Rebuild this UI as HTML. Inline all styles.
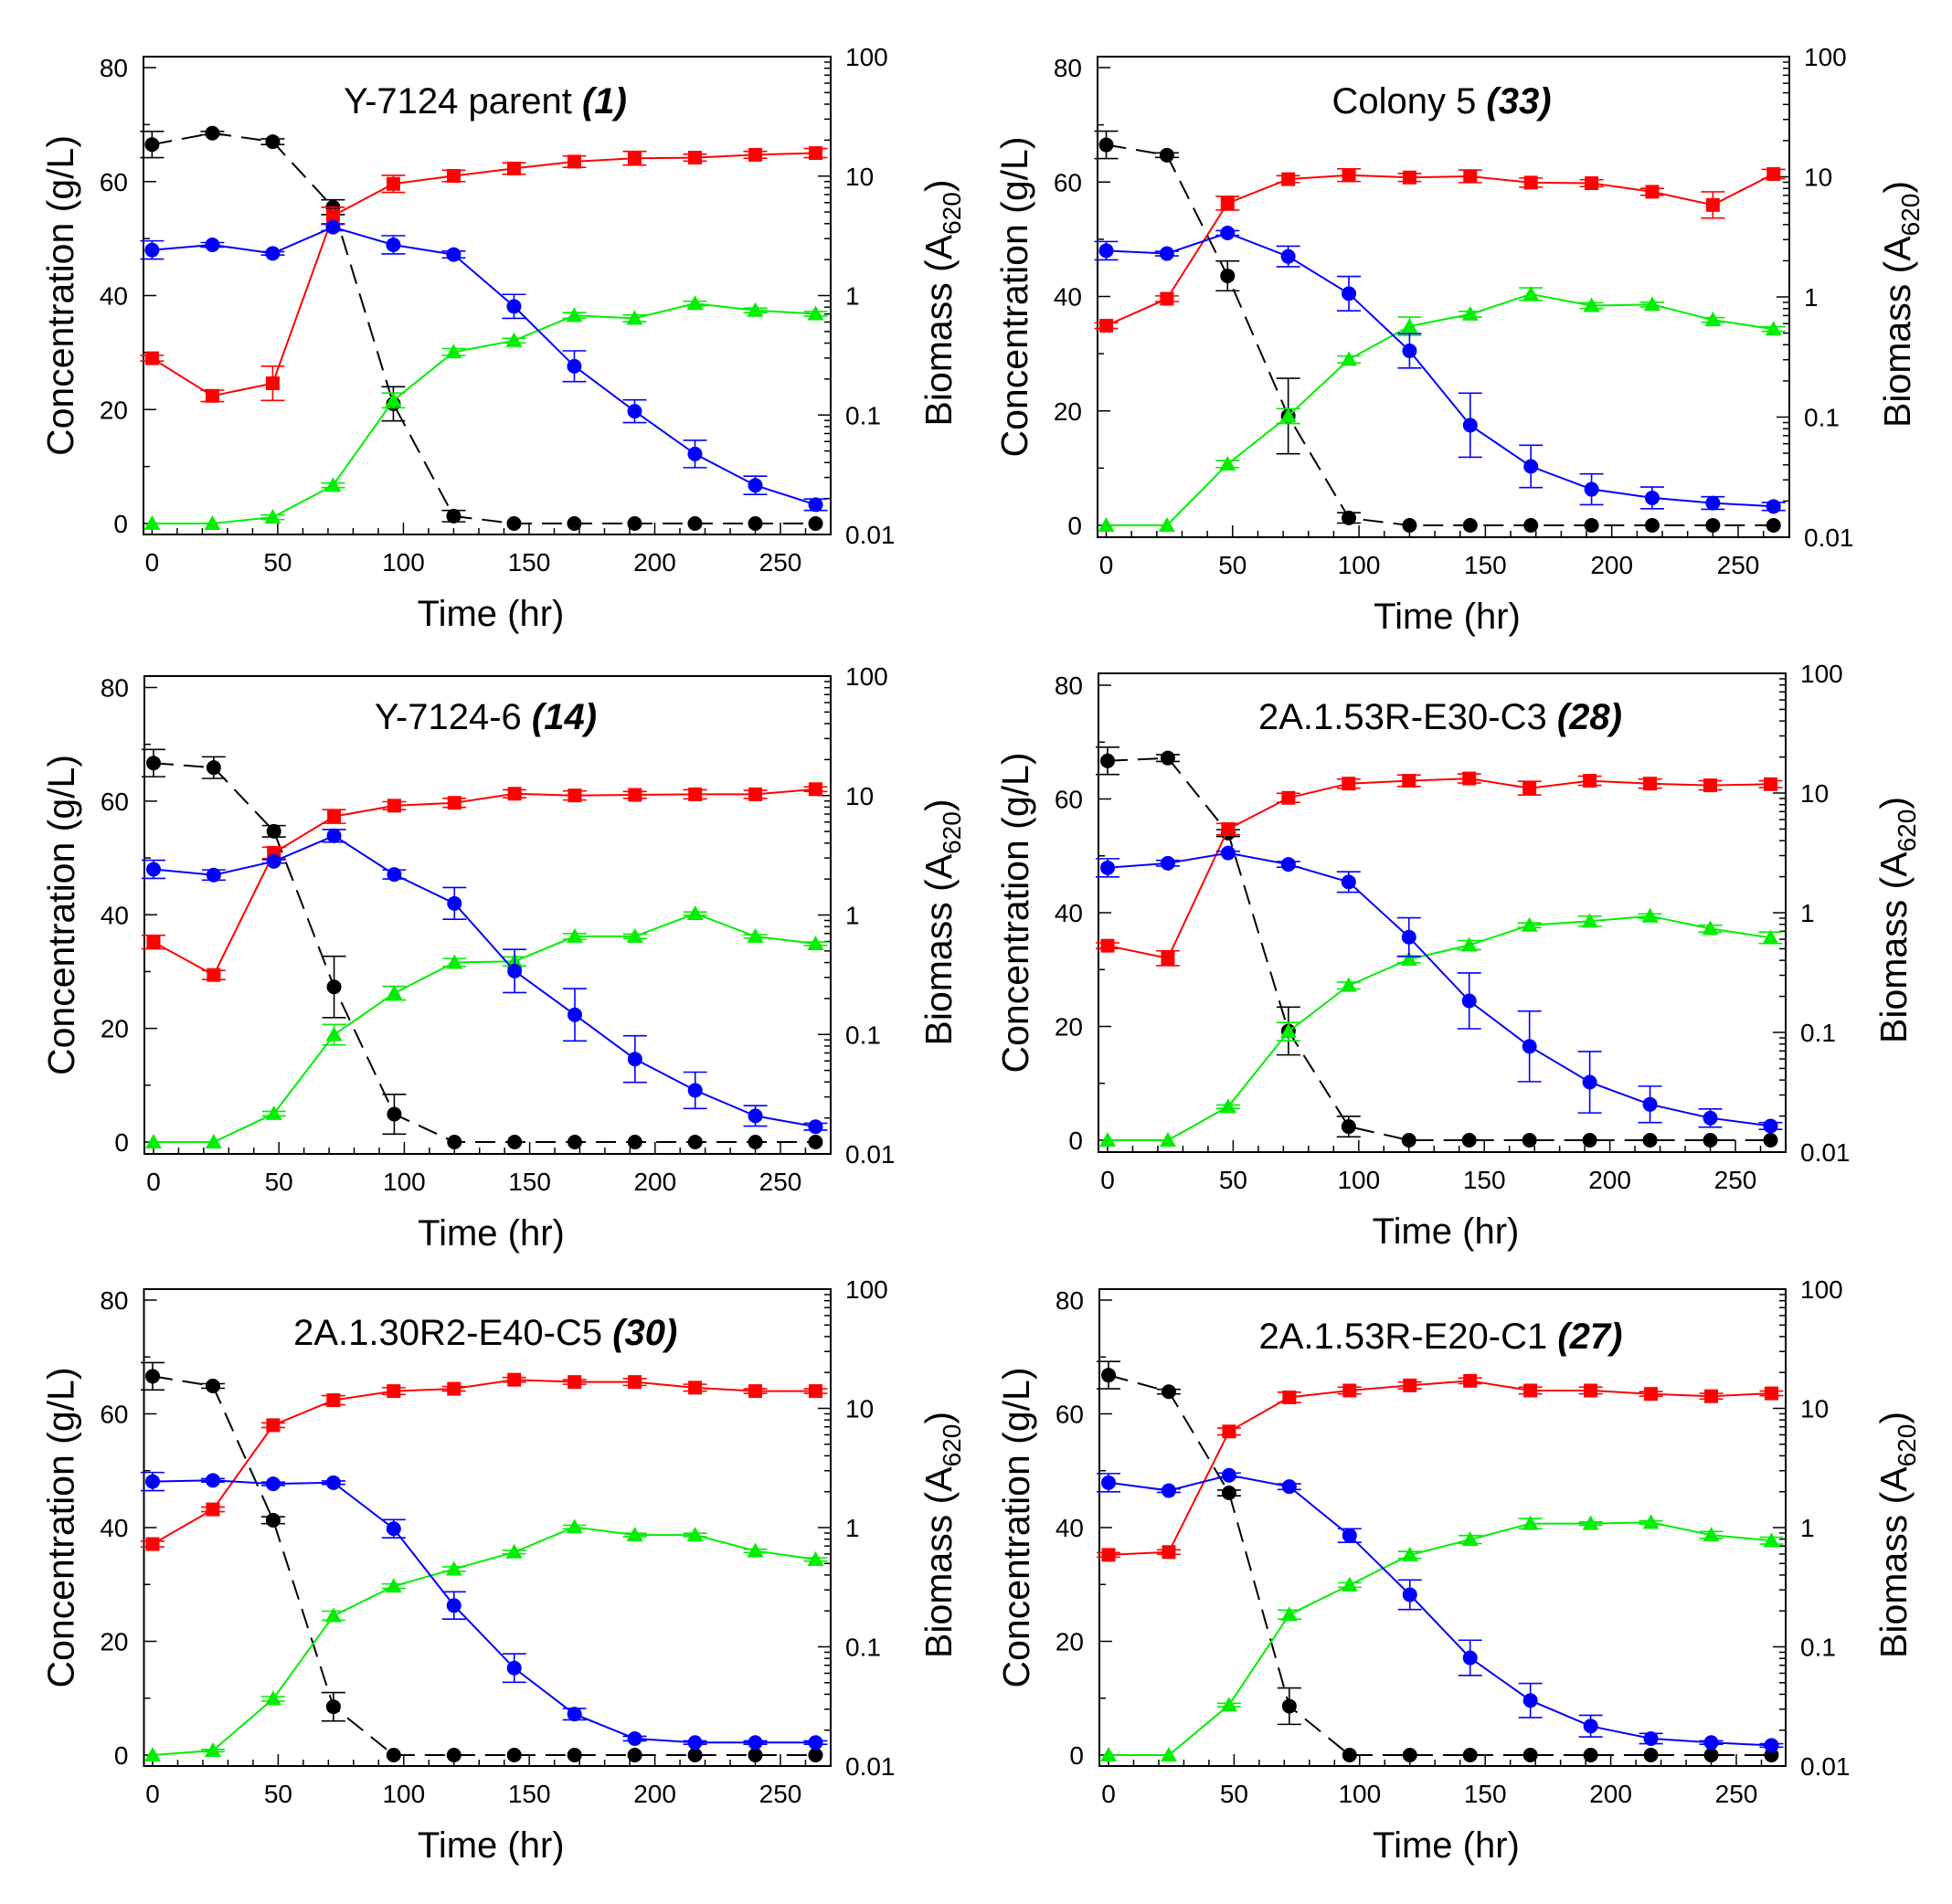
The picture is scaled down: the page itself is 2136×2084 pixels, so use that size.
<!DOCTYPE html>
<html><head><meta charset="utf-8"><style>
html,body{margin:0;padding:0;background:#fff;}
svg{display:block;font-family:"Liberation Sans",Arial,sans-serif;}
</style></head>
<body>
<svg id="chart" width="2136" height="2084" viewBox="0 0 2136 2084" xmlns="http://www.w3.org/2000/svg"></svg>
<script>
// Shared categories
const times = [0, 24, 48, 72, 96, 120, 144, 168, 192, 216, 240, 264];
const xTicks = [0, 50, 100, 150, 200, 250];
const yTicks = [0, 20, 40, 60, 80];
const rTickLabels = ["0.01", "0.1", "1", "10", "100"];

// Panel titles
const titleMain = ["Y-7124 parent ", "Colony 5 ", "Y-7124-6 ", "2A.1.53R-E30-C3 ", "2A.1.30R2-E40-C5 ", "2A.1.53R-E20-C1 "];
const titleBold = ["(1)", "(33)", "(14)", "(28)", "(30)", "(27)"];

// Panel A
const blackA = [66.5, 68.5, 67, 55.5, 21, 1.3, 0, 0, 0, 0, 0, 0];
const blackErrA = [2.3, 0.3, 0.5, 1.3, 3, 1, 0, 0, 0, 0, 0, 0];
const redA = [29, 22.4, 24.6, 54, 59.6, 61, 62.3, 63.5, 64.1, 64.2, 64.7, 65];
const redErrA = [0.5, 1, 3, 1.5, 1.5, 1, 1, 1, 1.2, 0.6, 0.6, 0.8];
const blueA = [48, 48.9, 47.4, 52, 48.9, 47.2, 38.1, 27.6, 19.7, 12.2, 6.7, 3.3];
const blueErrA = [1.6, 0.4, 0.3, 0.6, 1.6, 0.6, 2.1, 2.7, 2, 2.4, 1.6, 1];
const greenA = [0, 0, 1.1, 6.7, 21.6, 30.1, 32.1, 36.5, 36, 38.6, 37.4, 36.8];
const greenErrA = [0, 0, 0.4, 0.4, 1.3, 0.6, 0.4, 0.5, 0.6, 0.4, 0.4, 0.4];
// Panel B
const blackB = [66.5, 64.7, 43.6, 19.1, 1.3, 0, 0, 0, 0, 0, 0, 0];
const blackErrB = [2.4, 0.4, 2.6, 6.6, 0.9, 0, 0, 0, 0, 0, 0, 0];
const redB = [34.9, 39.6, 56.3, 60.5, 61.2, 60.8, 61, 59.9, 59.8, 58.3, 56, 61.4];
const redErrB = [0.5, 0.5, 1.2, 0.6, 1.1, 0.7, 1.1, 0.8, 0.6, 0.6, 2.3, 0.8];
const blueB = [48, 47.5, 51.1, 47, 40.5, 30.5, 17.5, 10.3, 6.3, 4.8, 3.9, 3.3];
const blueErrB = [1.6, 0.4, 0.4, 1.8, 3, 3, 5.6, 3.7, 2.7, 1.9, 1.1, 0.7];
const greenB = [0, 0, 10.7, 19.1, 29, 34.8, 36.9, 40.4, 38.4, 38.6, 35.9, 34.3];
const greenErrB = [0, 0, 0.6, 1.3, 0.6, 1.6, 0.5, 1.1, 0.5, 0.4, 0.4, 0.4];
// Panel C
const blackC = [66.7, 65.9, 54.7, 27.3, 4.9, 0, 0, 0, 0, 0, 0, 0];
const blackErrC = [2.4, 1.9, 1, 5.4, 3.5, 0, 0, 0, 0, 0, 0, 0];
const redC = [35.2, 29.4, 50.9, 57.3, 59.2, 59.7, 61.3, 61, 61.1, 61.2, 61.2, 62.1];
const redErrC = [1.2, 0.8, 1, 1.2, 0.7, 0.8, 0.7, 0.8, 0.6, 0.8, 0.7, 0.4];
const blueC = [48, 47, 49.4, 53.9, 47.1, 42, 30.1, 22.4, 14.6, 9.1, 4.6, 2.7];
const blueErrC = [1.6, 0.9, 0.3, 1.1, 0.8, 2.8, 3.8, 4.6, 4.1, 3.2, 1.8, 0.6];
const greenC = [0, 0, 5, 18.9, 26.2, 31.6, 31.8, 36.2, 36.2, 40.2, 36.2, 34.9];
const greenErrC = [0, 0, 0.4, 1.8, 1.2, 0.7, 0.8, 0.5, 0.4, 0.3, 0.3, 0.3];
// Panel D
const blackD = [66.7, 67.2, 54, 19.2, 2.4, 0, 0, 0, 0, 0, 0, 0];
const blackErrD = [2.4, 0.6, 0.6, 4.2, 1.8, 0, 0, 0, 0, 0, 0, 0];
const redD = [34.2, 32, 54.7, 60.2, 62.7, 63.2, 63.6, 61.9, 63.2, 62.7, 62.4, 62.6];
const redErrD = [0.5, 1.3, 1, 0.8, 0.8, 1, 0.8, 1.2, 0.8, 0.8, 0.8, 0.6];
const blueD = [47.9, 48.7, 50.5, 48.5, 45.4, 35.7, 24.5, 16.5, 10.2, 6.3, 3.9, 2.5];
const blueErrD = [1.6, 0.5, 0.3, 0.5, 1.8, 3.4, 4.9, 6.2, 5.4, 3.2, 1.6, 0.6];
const greenD = [0, 0, 5.9, 19.1, 27.2, 31.8, 34.3, 37.8, 38.5, 39.4, 37.2, 35.6];
const greenErrD = [0, 0, 0.3, 1.6, 0.6, 0.6, 0.8, 0.4, 0.9, 0.4, 0.6, 1];
// Panel E
const blackE = [66.6, 64.9, 41.3, 8.5, 0, 0, 0, 0, 0, 0, 0, 0];
const blackErrE = [2.4, 0.4, 0.6, 2.5, 0, 0, 0, 0, 0, 0, 0, 0];
const redE = [37.1, 43.2, 58, 62.4, 64, 64.4, 66, 65.6, 65.6, 64.6, 64, 64];
const redErrE = [0.5, 0.4, 0.4, 0.8, 0.6, 0.4, 0.4, 0.4, 0.6, 0.6, 0.4, 0.4];
const blueE = [48.1, 48.3, 47.7, 47.9, 39.8, 26.3, 15.3, 7.2, 2.9, 2.2, 2.2, 2.2];
const blueErrE = [1.6, 0.3, 0.3, 0.3, 1.6, 2.4, 2.5, 1, 0.4, 0.3, 0.3, 0.3];
const greenE = [0, 0.8, 9.9, 24.5, 29.7, 32.7, 35.7, 40.1, 38.7, 38.7, 35.9, 34.4];
const greenErrE = [0, 0.2, 0.4, 0.8, 0.4, 0.4, 0.3, 0.3, 0.3, 0.3, 0.3, 0.3];
// Panel F
const blackF = [66.8, 63.9, 46.1, 8.6, 0, 0, 0, 0, 0, 0, 0, 0];
const blackErrF = [2.4, 0.4, 0.5, 3.2, 0, 0, 0, 0, 0, 0, 0, 0];
const redF = [35.2, 35.7, 56.9, 62.9, 64.1, 65, 65.8, 64.1, 64.1, 63.5, 63.1, 63.6];
const redErrF = [0.4, 0.4, 0.6, 0.9, 0.6, 0.6, 0.5, 0.6, 0.6, 0.4, 0.5, 0.4];
const blueF = [47.9, 46.5, 49.2, 47.2, 38.6, 28.2, 17.1, 9.6, 5.1, 2.9, 2.2, 1.7];
const blueErrF = [1.6, 0.3, 0.4, 0.5, 1.2, 2.6, 3.1, 3, 1.9, 0.9, 0.3, 0.3];
const greenF = [0, 0, 8.8, 24.7, 29.9, 35.2, 37.9, 40.7, 40.7, 40.9, 38.7, 37.7];
const greenErrF = [0, 0, 0.3, 0.8, 0.4, 0.6, 0.7, 0.9, 0.3, 0.3, 0.6, 0.6];

const panelData = [
  {black: blackA, blackErr: blackErrA, red: redA, redErr: redErrA, blue: blueA, blueErr: blueErrA, green: greenA, greenErr: greenErrA},
  {black: blackB, blackErr: blackErrB, red: redB, redErr: redErrB, blue: blueB, blueErr: blueErrB, green: greenB, greenErr: greenErrB},
  {black: blackC, blackErr: blackErrC, red: redC, redErr: redErrC, blue: blueC, blueErr: blueErrC, green: greenC, greenErr: greenErrC},
  {black: blackD, blackErr: blackErrD, red: redD, redErr: redErrD, blue: blueD, blueErr: blueErrD, green: greenD, greenErr: greenErrD},
  {black: blackE, blackErr: blackErrE, red: redE, redErr: redErrE, blue: blueE, blueErr: blueErrE, green: greenE, greenErr: greenErrE},
  {black: blackF, blackErr: blackErrF, red: redF, redErr: redErrF, blue: blueF, blueErr: blueErrF, green: greenF, greenErr: greenErrF}
];

// layout (pixel geometry, not data)
const layouts = [
  {x1:157, x2:909, yt:62, yb:585, tx0:166.4, tx250:854, py0:573, py80:74, ty:124},
  {x1:1201, x2:1958, yt:62, yb:588, tx0:1210.5, tx250:1902, py0:575, py80:74, ty:124},
  {x1:158, x2:909, yt:740, yb:1263, tx0:168, tx250:854, py0:1250, py80:752.5, ty:798},
  {x1:1202, x2:1954, yt:737, yb:1261, tx0:1212, tx250:1899, py0:1248, py80:750, ty:798},
  {x1:157.5, x2:909, yt:1411, yb:1933, tx0:167, tx250:854, py0:1921, py80:1423, ty:1472},
  {x1:1203, x2:1954, yt:1411, yb:1933, tx0:1213, tx250:1900, py0:1921, py80:1423, ty:1476}
];

const NS = "http://www.w3.org/2000/svg";
const svg = document.getElementById("chart");
function mk(tag, attrs, parent) {
  const e = document.createElementNS(NS, tag);
  for (const k in attrs) e.setAttribute(k, attrs[k]);
  (parent || svg).appendChild(e);
  return e;
}

layouts.forEach((L, pi) => {
  const D = panelData[pi];
  const g = mk("g", {});
  
  
  const xs = t => L.tx0 + (L.tx250 - L.tx0) * t / 250;
  const ys = v => L.py0 + (L.py80 - L.py0) * v / 80;
  const ylog = v => L.yb + (L.yt - L.yb) * (Math.log10(v) + 2) / 4;

  const frame = mk("rect", {x: L.x1, y: L.yt, width: L.x2 - L.x1, height: L.yb - L.yt, fill: "none", stroke: "#000", "stroke-width": 2}, g);
  
  

  for (let v = 0; v <= 80; v += 10) {
    const y = ys(v);
    const len = v % 20 === 0 ? 14 : 7;
    const t = mk("line", {x1: L.x1, x2: L.x1 + len, y1: y, y2: y, stroke: "#000", "stroke-width": 1.5}, g);
    
    
  }
  yTicks.forEach(v => {
    const lb = mk("text", {x: L.x1 - 17, y: ys(v) + 10, "text-anchor": "end", "font-size": 28}, g);
    lb.textContent = v;
    
    
  });
  for (let t = 0; t <= 260; t += 10) {
    const x = xs(t);
    const len = t % 50 === 0 ? 13 : 7;
    const tk = mk("line", {x1: x, x2: x, y1: L.yb, y2: L.yb - len, stroke: "#000", "stroke-width": 1.5}, g);
    
    
  }
  xTicks.forEach(t => {
    const lb = mk("text", {x: xs(t), y: L.yb + 40, "text-anchor": "middle", "font-size": 28}, g);
    lb.textContent = t;
    
    
  });
  for (let d = -2; d < 2; d++) {
    for (let m = 1; m <= 9; m++) {
      const y = ylog(m * Math.pow(10, d));
      const len = m === 1 ? 14 : 7;
      const tk = mk("line", {x1: L.x2, x2: L.x2 - len, y1: y, y2: y, stroke: "#000", "stroke-width": 1.5}, g);
      
      
    }
  }
  rTickLabels.forEach((s, i) => {
    const lb = mk("text", {x: L.x2 + 16, y: ylog(Math.pow(10, i - 2)) + 10, "font-size": 28}, g);
    lb.textContent = s;
    
    
  });

  const cx = (L.x1 + L.x2) / 2, cy = (L.yt + L.yb) / 2;
  const xt = mk("text", {x: cx + 4, y: L.yb + 100, "text-anchor": "middle", "font-size": 40}, g);
  xt.textContent = "Time (hr)";
  
  
  const lt = mk("text", {x: 0, y: 0, "text-anchor": "middle", "font-size": 41, transform: `translate(${L.x1 - 77},${cy}) rotate(-90)`}, g);
  lt.textContent = "Concentration (g/L)";
  
  
  const rt = mk("text", {x: 0, y: 0, "text-anchor": "middle", "font-size": 41, transform: `translate(${L.x2 + 132},${cy + 8}) rotate(-90)`}, g);
  
  
  const t1 = mk("tspan", {}, rt); t1.textContent = "Biomass (A";
  const t2 = mk("tspan", {"font-size": 28, dy: 10}, rt); t2.textContent = "620";
  const t3 = mk("tspan", {dy: -10}, rt); t3.textContent = ")";

  const tt = mk("text", {x: cx - 2, y: L.ty, "text-anchor": "middle", "font-size": 40}, g);
  
  
  const s1 = mk("tspan", {}, tt); s1.textContent = titleMain[pi];
  const s2 = mk("tspan", {"font-weight": "bold", "font-style": "italic"}, tt); s2.textContent = titleBold[pi];

  const series = [
    {vals: D.black, err: D.blackErr, color: "#000", marker: "circle", dash: "22,11", name: "black"},
    {vals: D.red, err: D.redErr, color: "#ff0000", marker: "square", dash: null, name: "red"},
    {vals: D.green, err: D.greenErr, color: "#00ee00", marker: "triangle", dash: null, name: "green"},
    {vals: D.blue, err: D.blueErr, color: "#0000ff", marker: "circle", dash: null, name: "blue"}
  ];
  series.forEach(s => {
    const sg = mk("g", {}, g);
    
    
    const pts = times.map((t, i) => xs(t).toFixed(1) + "," + ys(s.vals[i]).toFixed(1)).join(" ");
    const pl = mk("polyline", {points: pts, fill: "none", stroke: s.color, "stroke-width": 2}, sg);
    if (s.dash) pl.setAttribute("stroke-dasharray", s.dash);
    
    
    times.forEach((t, i) => {
      const x = xs(t), y = ys(s.vals[i]), e = s.err[i];
      if (e > 0) {
        const yh = ys(s.vals[i] + e), yl = ys(Math.max(s.vals[i] - e, -1.8));
        const eb = mk("path", {d: `M${x},${yh}V${yl}M${x - 13},${yh}H${x + 13}M${x - 13},${yl}H${x + 13}`, stroke: s.color, "stroke-width": 1.6, fill: "none"}, sg);
        
        
      }
      let m;
      if (s.marker === "circle") m = mk("ellipse", {cx: x, cy: y, rx: 8, ry: 8, fill: s.color}, sg);
      else if (s.marker === "square") m = mk("rect", {x: x - 7.5, y: y - 7.5, width: 15, height: 15, fill: s.color}, sg);
      else m = mk("path", {d: `M${x},${y - 9}L${x + 9},${y + 7}L${x - 9},${y + 7}Z`, fill: s.color}, sg);
      
      
    });
  });
});
</script>
</body></html>
